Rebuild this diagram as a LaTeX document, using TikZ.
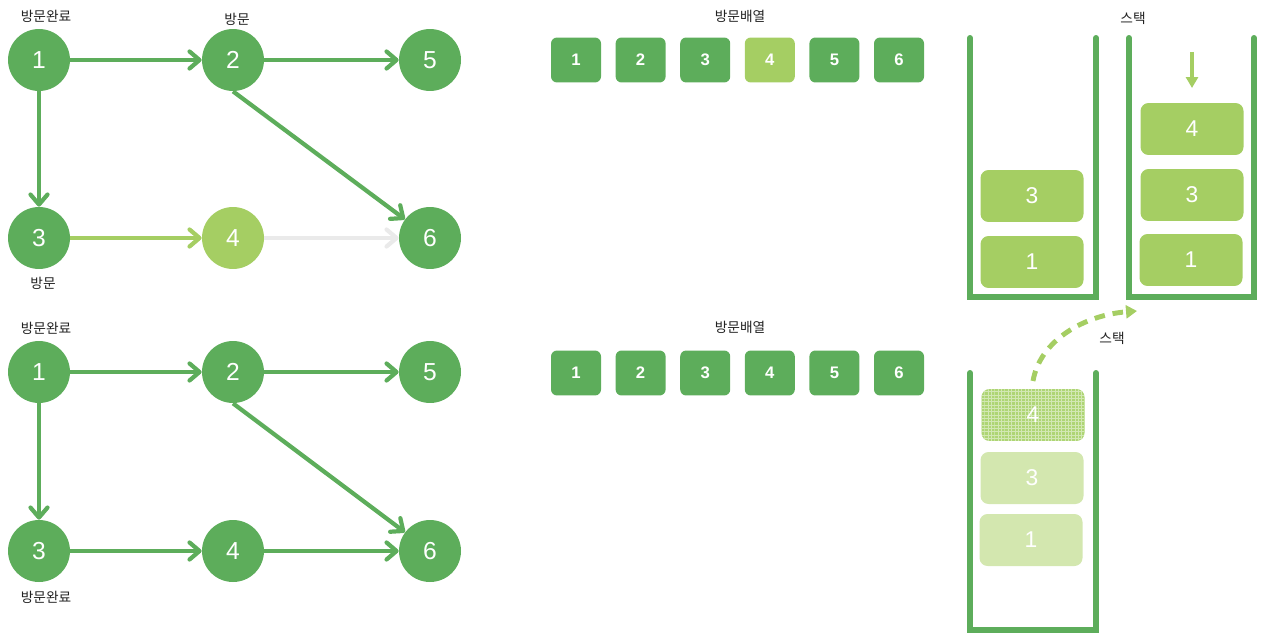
\documentclass[tikz,border=0pt]{standalone}
\usepackage{fontspec}
\setmainfont{Liberation Sans}
\newfontfamily\kr{Noto Sans CJK KR}
\usetikzlibrary{arrows.meta,positioning,calc,patterns.meta}
\definecolor{dgreen}{HTML}{5DAD5B}
\definecolor{lgreen}{HTML}{A5CE63}
\definecolor{pgreen}{HTML}{D3E7AF}
\definecolor{hgreen}{HTML}{AED574}
\definecolor{egray}{HTML}{EAEAEA}
\definecolor{ink}{HTML}{222222}
\tikzdeclarepattern{
    name=finegrid,
    type=uncolored,
    bottom left={(-0.2pt,-0.2pt)},
    top right={(2pt,2pt)},
    tile size={(1.9pt,1.9pt)},
    code={\draw[line width=0.35pt] (0pt,0pt) -- (1.9pt,0pt) (0pt,0pt) -- (0pt,1.9pt);}
}

\begin{document}
\begin{tikzpicture}[x=0.02cm,y=-0.02cm,
    vert/.style={circle,fill=dgreen,minimum size=1.24cm,inner sep=0pt,text=white,font=\fontsize{14}{14}\selectfont},
    edge/.style={dgreen,line width=2.4pt,-{Straight Barb[length=0.2cm,width=0.34cm,round]}},
    cell/.style={rounded corners=0.12cm,fill=dgreen,minimum width=1cm,minimum height=0.9cm,inner sep=0pt,text=white,font=\bfseries\fontsize{9.5}{9.5}\selectfont},
    item/.style={rounded corners=0.16cm,fill=lgreen,minimum width=2.06cm,minimum height=1.04cm,inner sep=0pt,text=white,font=\fontsize{13}{13}\selectfont},
    wall/.style={dgreen,line width=3.4pt,line cap=round,line join=miter},
    tag/.style={text=ink,font=\kr\fontsize{7.8}{7.8}\selectfont}]
    \useasboundingbox (0,0) rectangle (1267,642);

    % top graph
    \node[vert] (a1) at (39,60) {1};
    \node[vert] (a2) at (233,60) {2};
    \node[vert] (a5) at (430,60) {5};
    \node[vert] (a3) at (39,238) {3};
    \node[vert,fill=lgreen] (a4) at (233,238) {4};
    \node[vert] (a6) at (430,238) {6};
    \node[tag] (la1) at (46,16) {방문완료};
    \node[tag] (la2) at (237,19) {방문};
    \node[tag] (la3) at (43,283) {방문};
    \draw[edge] (a1) -- (a2);
    \draw[edge] (a2) -- (a5);
    \draw[edge] (a1) -- (a3);
    \draw[edge] (a2.south) -- (a6);
    \draw[edge,lgreen] (a3) -- (a4);
    \draw[edge,egray] (a4) -- (a6);

    % bottom graph
    \node[vert] (b1) at (39,372) {1};
    \node[vert] (b2) at (233,372) {2};
    \node[vert] (b5) at (430,372) {5};
    \node[vert] (b3) at (39,551) {3};
    \node[vert] (b4) at (233,551) {4};
    \node[vert] (b6) at (430,551) {6};
    \node[tag] (lb1) at (46,328) {방문완료};
    \node[tag] (lb3) at (46,597) {방문완료};
    \draw[edge] (b1) -- (b2);
    \draw[edge] (b2) -- (b5);
    \draw[edge] (b1) -- (b3);
    \draw[edge] (b2.south) -- (b6);
    \draw[edge] (b3) -- (b4);
    \draw[edge] (b4) -- (b6);

    % visited arrays
    \node[tag] (arrA) at (740,16) {방문배열};
    \foreach \i/\c in {1/dgreen,2/dgreen,3/dgreen,4/lgreen,5/dgreen,6/dgreen}
        \node[cell,fill=\c] (ta\i) at ({511.4+64.6*\i},60) {\i};
    \node[tag] (arrB) at (740,327) {방문배열};
    \foreach \i in {1,...,6}
        \node[cell] (tb\i) at ({511.4+64.6*\i},373) {\i};

    % stacks, top
    \node[tag] (stkA) at (1133,18) {스택};
    \draw[wall] (970,38) -- (970,297) -- (1096,297) -- (1096,38);
    \node[item] (sA1) at (1032,262) {1};
    \node[item] (sA3) at (1032,196) {3};
    \draw[wall] (1129,38) -- (1129,297) -- (1254,297) -- (1254,38);
    \node[item] (sB1) at (1191,260) {1};
    \node[item] (sB3) at (1192,195) {3};
    \node[item] (sB4) at (1192,129) {4};
    \coordinate (push0) at (1192,52);
    \coordinate (push1) at (1192,88);
    \draw[lgreen,line width=2.2pt,-{Triangle[length=0.22cm,width=0.24cm]}] (push0) -- (push1);

    % stack, bottom
    \node[tag] (stkC) at (1112,338) {스택};
    \draw[wall] (970,373) -- (970,630) -- (1096,630) -- (1096,373);
    \node[item,fill=pgreen] (sC1) at (1031,540) {1};
    \node[item,fill=pgreen] (sC3) at (1032,478) {3};
    \node[item,preaction={fill=hgreen},pattern={finegrid},pattern color=white!45!hgreen] (sC4) at (1033,415) {4};
    \coordinate (pop0) at (1033,381);
    \coordinate (pop1) at (1137,311);
    \draw[lgreen,line width=2.8pt,dash pattern=on 6pt off 4.5pt,-{Triangle[length=0.22cm,width=0.26cm]}]
        (pop0) .. controls (1040,340) and (1085,315) .. (pop1);
\end{tikzpicture}
\end{document}
